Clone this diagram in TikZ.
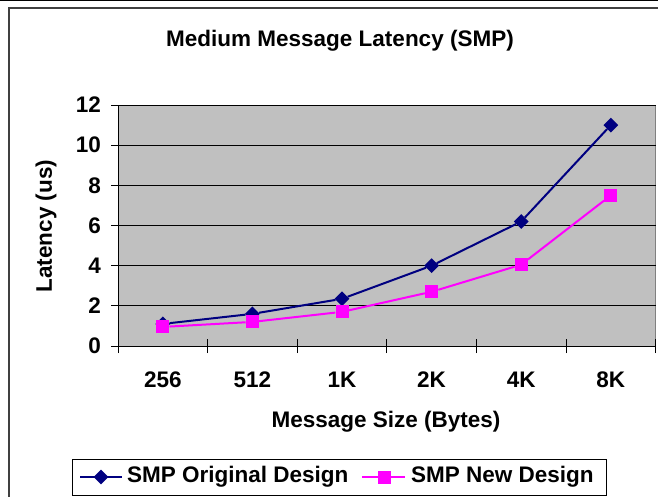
\documentclass[tikz,border=0pt]{standalone}
\usepackage{fontspec}
\setmainfont{Liberation Sans}
\usepackage{tikz}
\usetikzlibrary{shapes,arrows,positioning}

\definecolor{navyline}{RGB}{0,0,128}
\definecolor{pinkline}{RGB}{255,0,255}
\definecolor{plotgray}{RGB}{192,192,192}
\definecolor{framegray}{RGB}{64,64,64}

\begin{document}
\begin{tikzpicture}[
    x=1pt, y=-1pt,
    label/.style={font=\fontsize{22.5}{26}\selectfont\bfseries, inner sep=0pt},
    origmark/.style={diamond, fill=navyline, inner sep=0pt, minimum size=15pt},
    newmark/.style={rectangle, fill=pinkline, inner sep=0pt, minimum size=13pt},
    origline/.style={navyline, line width=2pt},
    newline/.style={pinkline, line width=2pt},
    grid/.style={black, line width=0.8pt}
]
\useasboundingbox (0,0) rectangle (658,497);

% Frame
\draw[black, line width=1pt] (0,0.5) -- (658,0.5);
\draw[framegray, line width=2pt] (9,497) -- (9,8) -- (658,8);

% Title
\node[label] at (340,41) (title) {Medium Message Latency (SMP)};

% Plot area
\begin{scope}[shift={(118,346)}, x=89.6pt, y=20.08pt]
\fill[plotgray] (0,0) rectangle (6,12);
\draw[gray, line width=1pt] (0,12) -- (6,12) -- (6,0);
\foreach \v in {2,4,...,12}
    \draw[grid] (0,\v) -- (6,\v);
\draw[grid] (0,0) -- (0,12);
\draw[grid] (0,0) -- (6,0);

% Axis ticks and numbers
\foreach \v in {0,2,...,12} {
    \draw[grid] (0,\v) -- ++(-7pt,0);
    \node[label, anchor=east] at ([xshift=-17pt]0,\v) (ytick\v) {\v};
}
\foreach \i in {0,...,6}
    \draw[grid] (\i,0) ++(0,-7pt) -- ++(0,14pt);
\foreach \lab [count=\i] in {256,512,1K,2K,4K,8K}
    \node[label] at ([yshift=-34pt]\i-0.5,0) (xtick\i) {\lab};

% Data points
\foreach \val [count=\i] in {1.1,1.6,2.35,4.0,6.2,11.0}
    \node[origmark] at (\i-0.5,\val) (o\i) {};
\foreach \val [count=\i] in {0.95,1.2,1.7,2.7,4.05,7.5}
    \node[newmark] at (\i-0.5,\val) (n\i) {};
\end{scope}

% Series lines
\draw[origline] (o1) -- (o2) -- (o3) -- (o4) -- (o5) -- (o6);
\draw[newline] (n1) -- (n2) -- (n3) -- (n4) -- (n5) -- (n6);

% Axis titles
\node[label, rotate=90] at (46,226) (ytitle) {Latency (us)};
\node[label] at (386,422) (xtitle) {Message Size (Bytes)};

% Legend
\node[draw=black, line width=1pt, minimum width=534pt, minimum height=36pt, inner sep=0pt] at (339,477) (legend) {};
\coordinate (legoa) at (80,477);
\coordinate (legob) at (122,477);
\draw[origline] (legoa) -- (legob);
\node[origmark] at (101,477) (legomark) {};
\node[label, anchor=west] at (127,477) (legotext) {SMP Original Design};
\coordinate (legna) at (362,477);
\coordinate (legnb) at (405,477);
\draw[newline] (legna) -- (legnb);
\node[newmark] at (384,477) (legnmark) {};
\node[label, anchor=west] at (411,477) (legntext) {SMP New Design};

\end{tikzpicture}
\end{document}
